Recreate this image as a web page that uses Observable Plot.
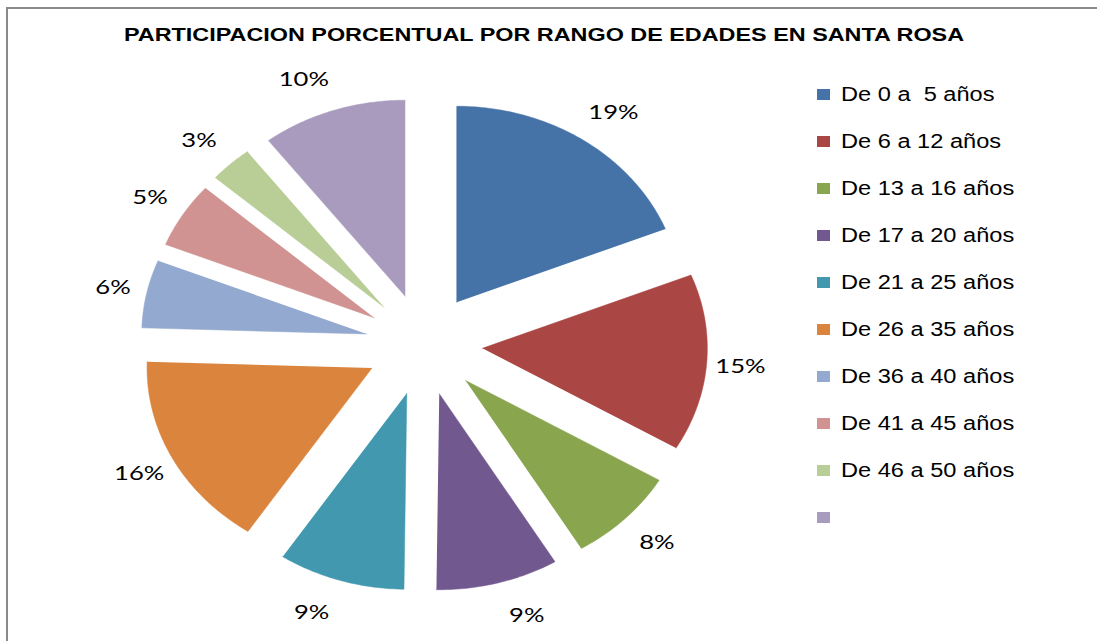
<!DOCTYPE html>
<html>
<head>
<meta charset="utf-8">
<script src="https://cdn.jsdelivr.net/npm/d3@7"></script>
<script src="https://cdn.jsdelivr.net/npm/@observablehq/plot@0.6"></script>
<style>
  html, body { margin: 0; padding: 0; background: #fff; }
  #wrap { position: relative; width: 1097px; height: 641px; overflow: hidden; background: #fff; }
  #frame { position: absolute; left: 6px; top: 7px; width: 1200px; height: 700px;
           border-left: 2px solid #8a8a8a; border-top: 2px solid #8a8a8a; box-sizing: border-box; }
  #chart { position: absolute; left: 0; top: 0; }
  #title { position: absolute; left: 44px; width: 1000px; top: 25px; text-align: center;
           font-family: "Liberation Sans", Arial, sans-serif; font-weight: bold; font-size: 19px;
           line-height: 19px; color: #000; transform: scaleX(1.23); transform-origin: 50% 50%; white-space: pre; }
  .lg-sw { position: absolute; width: 13px; height: 11px; }
  .lg-tx { position: absolute; font-family: "Liberation Sans", Arial, sans-serif; font-size: 20px;
           line-height: 20px; color: #000; white-space: pre; transform: scaleX(1.18); transform-origin: 0 50%; }
</style>
</head>
<body>
<div id="wrap">
  <div id="frame"></div>
  <div id="chart"></div>
  <div id="title"></div>
  <div id="legend"></div>
</div>
<script>
// ---- data ----
const title = "PARTICIPACION PORCENTUAL POR RANGO DE EDADES EN SANTA ROSA";
const categories = ["De 0 a  5 años", "De 6 a 12 años", "De 13 a 16 años", "De 17 a 20 años",
  "De 21 a 25 años", "De 26 a 35 años", "De 36 a 40 años", "De 41 a 45 años", "De 46 a 50 años", ""];
// shares (labels show them rounded)
const percentages = [18.9, 14.6, 7.9, 8.8, 9.1, 16.2, 5.6, 5.4, 3.1, 10.4];
const colors = ["#4572A7", "#AA4643", "#89A54E", "#71588F", "#4198AF",
  "#DB843D", "#93A9CF", "#D19392", "#B9CD96", "#A99BBD"];

// ---- layout ----
const W = 1097, H = 641;
const CX = 423.5, CY = 344;     // pie centre (px)
const RX = 225, RY = 196;       // pie radius (px) horizontally / vertically
const EXPLODE = 0.26;           // explosion, in radius units

// ---- geometry from data ----
const total = d3.sum(percentages);
let cum = 0;
const slices = percentages.map((v, i) => {
  const a0 = cum / total * 2 * Math.PI; cum += v;
  const a1 = cum / total * 2 * Math.PI;
  const am = (a0 + a1) / 2;
  const ox = EXPLODE * Math.sin(am), oy = -EXPLODE * Math.cos(am);
  const pts = [{x: ox, y: oy}];
  const n = Math.max(6, Math.ceil(v * 4));
  for (let k = 0; k <= n; k++) {
    const a = a0 + (a1 - a0) * k / n;
    pts.push({x: ox + Math.sin(a), y: oy - Math.cos(a)});
  }
  const dx = Math.sin(am), dy = -Math.cos(am);
  const label = {x: 1.29 * dx + 0.12 * Math.sign(dx), y: 1.43 * dy + 0.036, text: Math.round(v / total * 100) + "%"};
  return {pts, color: colors[i], label};
});
const labels = slices.map(s => s.label);

const plot = Plot.plot({
  width: W, height: H,
  margin: 0,
  style: {background: "transparent", overflow: "visible"},
  x: {axis: null, domain: [-CX / RX, (W - CX) / RX], range: [0, W]},
  y: {axis: null, domain: [-CY / RY, (H - CY) / RY], range: [0, H]},
  marks: [
    ...slices.map(s => Plot.line(s.pts, {x: "x", y: "y", fill: s.color, stroke: s.color, strokeWidth: 0.5, curve: "linear"})),
    Plot.text(labels, {x: "x", y: "y", text: "text", fontSize: 20,
      fontFamily: "Lato, 'Open Sans', sans-serif", fill: "#000", textAnchor: "middle", lineAnchor: "middle"})
  ]
});
document.getElementById("chart").appendChild(plot);

// stretch percentage labels horizontally like the original rendering
const xs = plot.scale("x"), ys = plot.scale("y");
const textEls = plot.querySelectorAll("g[aria-label='text'] text");
if (textEls.length === labels.length) {
  textEls.forEach((t, i) => {
    const px = xs.apply(labels[i].x), py = ys.apply(labels[i].y);
    if (isFinite(px) && isFinite(py)) {
      t.removeAttribute("x"); t.removeAttribute("y");
      t.setAttribute("transform", `translate(${px},${py}) scale(1.28,1)`);
    }
  });
}

document.getElementById("title").textContent = title;

// legend
const legend = document.getElementById("legend");
categories.forEach((c, i) => {
  const cy = 94 + i * 47;
  const sw = document.createElement("div");
  sw.className = "lg-sw";
  sw.style.left = "817px"; sw.style.top = (cy - 5.5) + "px"; sw.style.background = colors[i];
  legend.appendChild(sw);
  const tx = document.createElement("div");
  tx.className = "lg-tx";
  tx.style.left = "841px"; tx.style.top = (cy - 9.7) + "px";
  tx.textContent = c;
  legend.appendChild(tx);
});
</script>
</body>
</html>
